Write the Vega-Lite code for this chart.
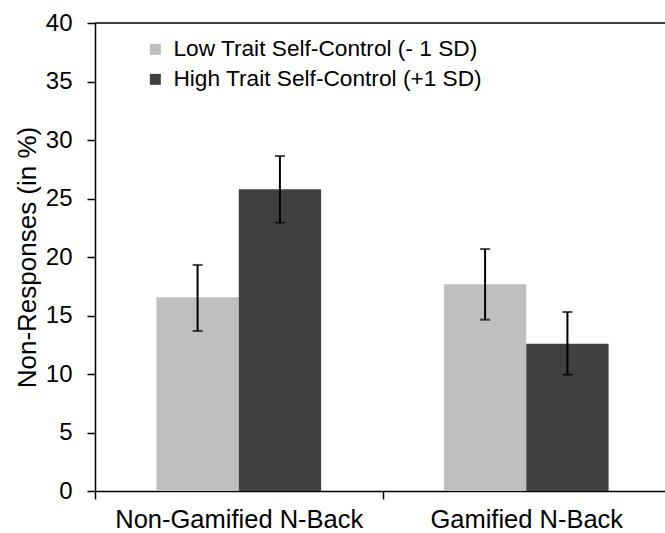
{
  "$schema": "https://vega.github.io/schema/vega-lite/v6.json",
  "width": 570,
  "height": 468,
  "autosize": {"type": "none"},
  "padding": {"left": 95, "top": 23, "right": 0, "bottom": 42},
  "background": "white",
  "config": {
    "view": {"stroke": null},
    "font": "Liberation Sans",
    "axis": {
      "domainColor": "black",
      "domainWidth": 1.5,
      "tickColor": "black",
      "tickWidth": 1.5,
      "labelColor": "black",
      "titleColor": "black",
      "titleFontWeight": "normal",
      "labelLimit": 500,
      "grid": false
    }
  },
  "data": {
    "values": [
      {"task": "Non-Gamified N-Back", "group": "Low Trait Self-Control (- 1 SD)", "value": 16.56, "lo": 13.68, "hi": 19.32},
      {"task": "Non-Gamified N-Back", "group": "High Trait Self-Control (+1 SD)", "value": 25.79, "lo": 22.93, "hi": 28.63},
      {"task": "Gamified N-Back", "group": "Low Trait Self-Control (- 1 SD)", "value": 17.67, "lo": 14.64, "hi": 20.68},
      {"task": "Gamified N-Back", "group": "High Trait Self-Control (+1 SD)", "value": 12.59, "lo": 9.94, "hi": 15.30}
    ]
  },
  "layer": [
    {
      "mark": {"type": "bar"},
      "encoding": {
        "x": {
          "field": "task",
          "type": "nominal",
          "sort": ["Non-Gamified N-Back", "Gamified N-Back"],
          "scale": {"range": [0, 575], "paddingInner": 0, "paddingOuter": 0},
          "axis": {
            "title": null,
            "labelAngle": 0,
            "labelFontSize": 25.5,
            "labelPadding": 8,
            "labelLimit": 500,
            "tickSize": 8,
            "tickBand": "extent"
          }
        },
        "xOffset": {
          "field": "group",
          "sort": ["Low Trait Self-Control (- 1 SD)", "High Trait Self-Control (+1 SD)"],
          "scale": {"paddingInner": 0, "paddingOuter": 0.746}
        },
        "y": {
          "field": "value",
          "type": "quantitative",
          "scale": {"domain": [0, 40], "nice": false},
          "axis": {
            "title": "Non-Responses (in %)",
            "titleFontSize": 26,
            "titlePadding": 5,
            "values": [0, 5, 10, 15, 20, 25, 30, 35, 40],
            "labelFontSize": 24,
            "labelPadding": 15,
            "tickSize": 8
          }
        },
        "color": {
          "field": "group",
          "type": "nominal",
          "sort": ["Low Trait Self-Control (- 1 SD)", "High Trait Self-Control (+1 SD)"],
          "scale": {"range": ["#BFBFBF", "#404040"]},
          "legend": {
            "title": null,
            "orient": "none",
            "legendX": 49,
            "legendY": 15,
            "padding": 0,
            "symbolType": "square",
            "symbolSize": 121,
            "symbolStrokeWidth": 0,
            "labelFontSize": 22.7,
            "labelColor": "black",
            "labelOffset": 6.7,
            "labelLimit": 500,
            "rowPadding": 6
          }
        }
      }
    },
    {
      "mark": {"type": "rule", "color": "black", "strokeWidth": 2},
      "encoding": {
        "x": {"field": "task", "type": "nominal", "sort": ["Non-Gamified N-Back", "Gamified N-Back"]},
        "xOffset": {"field": "group", "sort": ["Low Trait Self-Control (- 1 SD)", "High Trait Self-Control (+1 SD)"]},
        "y": {"field": "lo", "type": "quantitative"},
        "y2": {"field": "hi"}
      }
    },
    {
      "mark": {"type": "tick", "color": "black", "size": 10, "thickness": 2},
      "encoding": {
        "x": {"field": "task", "type": "nominal", "sort": ["Non-Gamified N-Back", "Gamified N-Back"]},
        "xOffset": {"field": "group", "sort": ["Low Trait Self-Control (- 1 SD)", "High Trait Self-Control (+1 SD)"]},
        "y": {"field": "lo", "type": "quantitative"}
      }
    },
    {
      "mark": {"type": "tick", "color": "black", "size": 10, "thickness": 2},
      "encoding": {
        "x": {"field": "task", "type": "nominal", "sort": ["Non-Gamified N-Back", "Gamified N-Back"]},
        "xOffset": {"field": "group", "sort": ["Low Trait Self-Control (- 1 SD)", "High Trait Self-Control (+1 SD)"]},
        "y": {"field": "hi", "type": "quantitative"}
      }
    },
    {
      "data": {"values": [{"top": 40}]},
      "mark": {"type": "rule", "color": "black", "strokeWidth": 1.5},
      "encoding": {
        "y": {"field": "top", "type": "quantitative"}
      }
    }
  ]
}
